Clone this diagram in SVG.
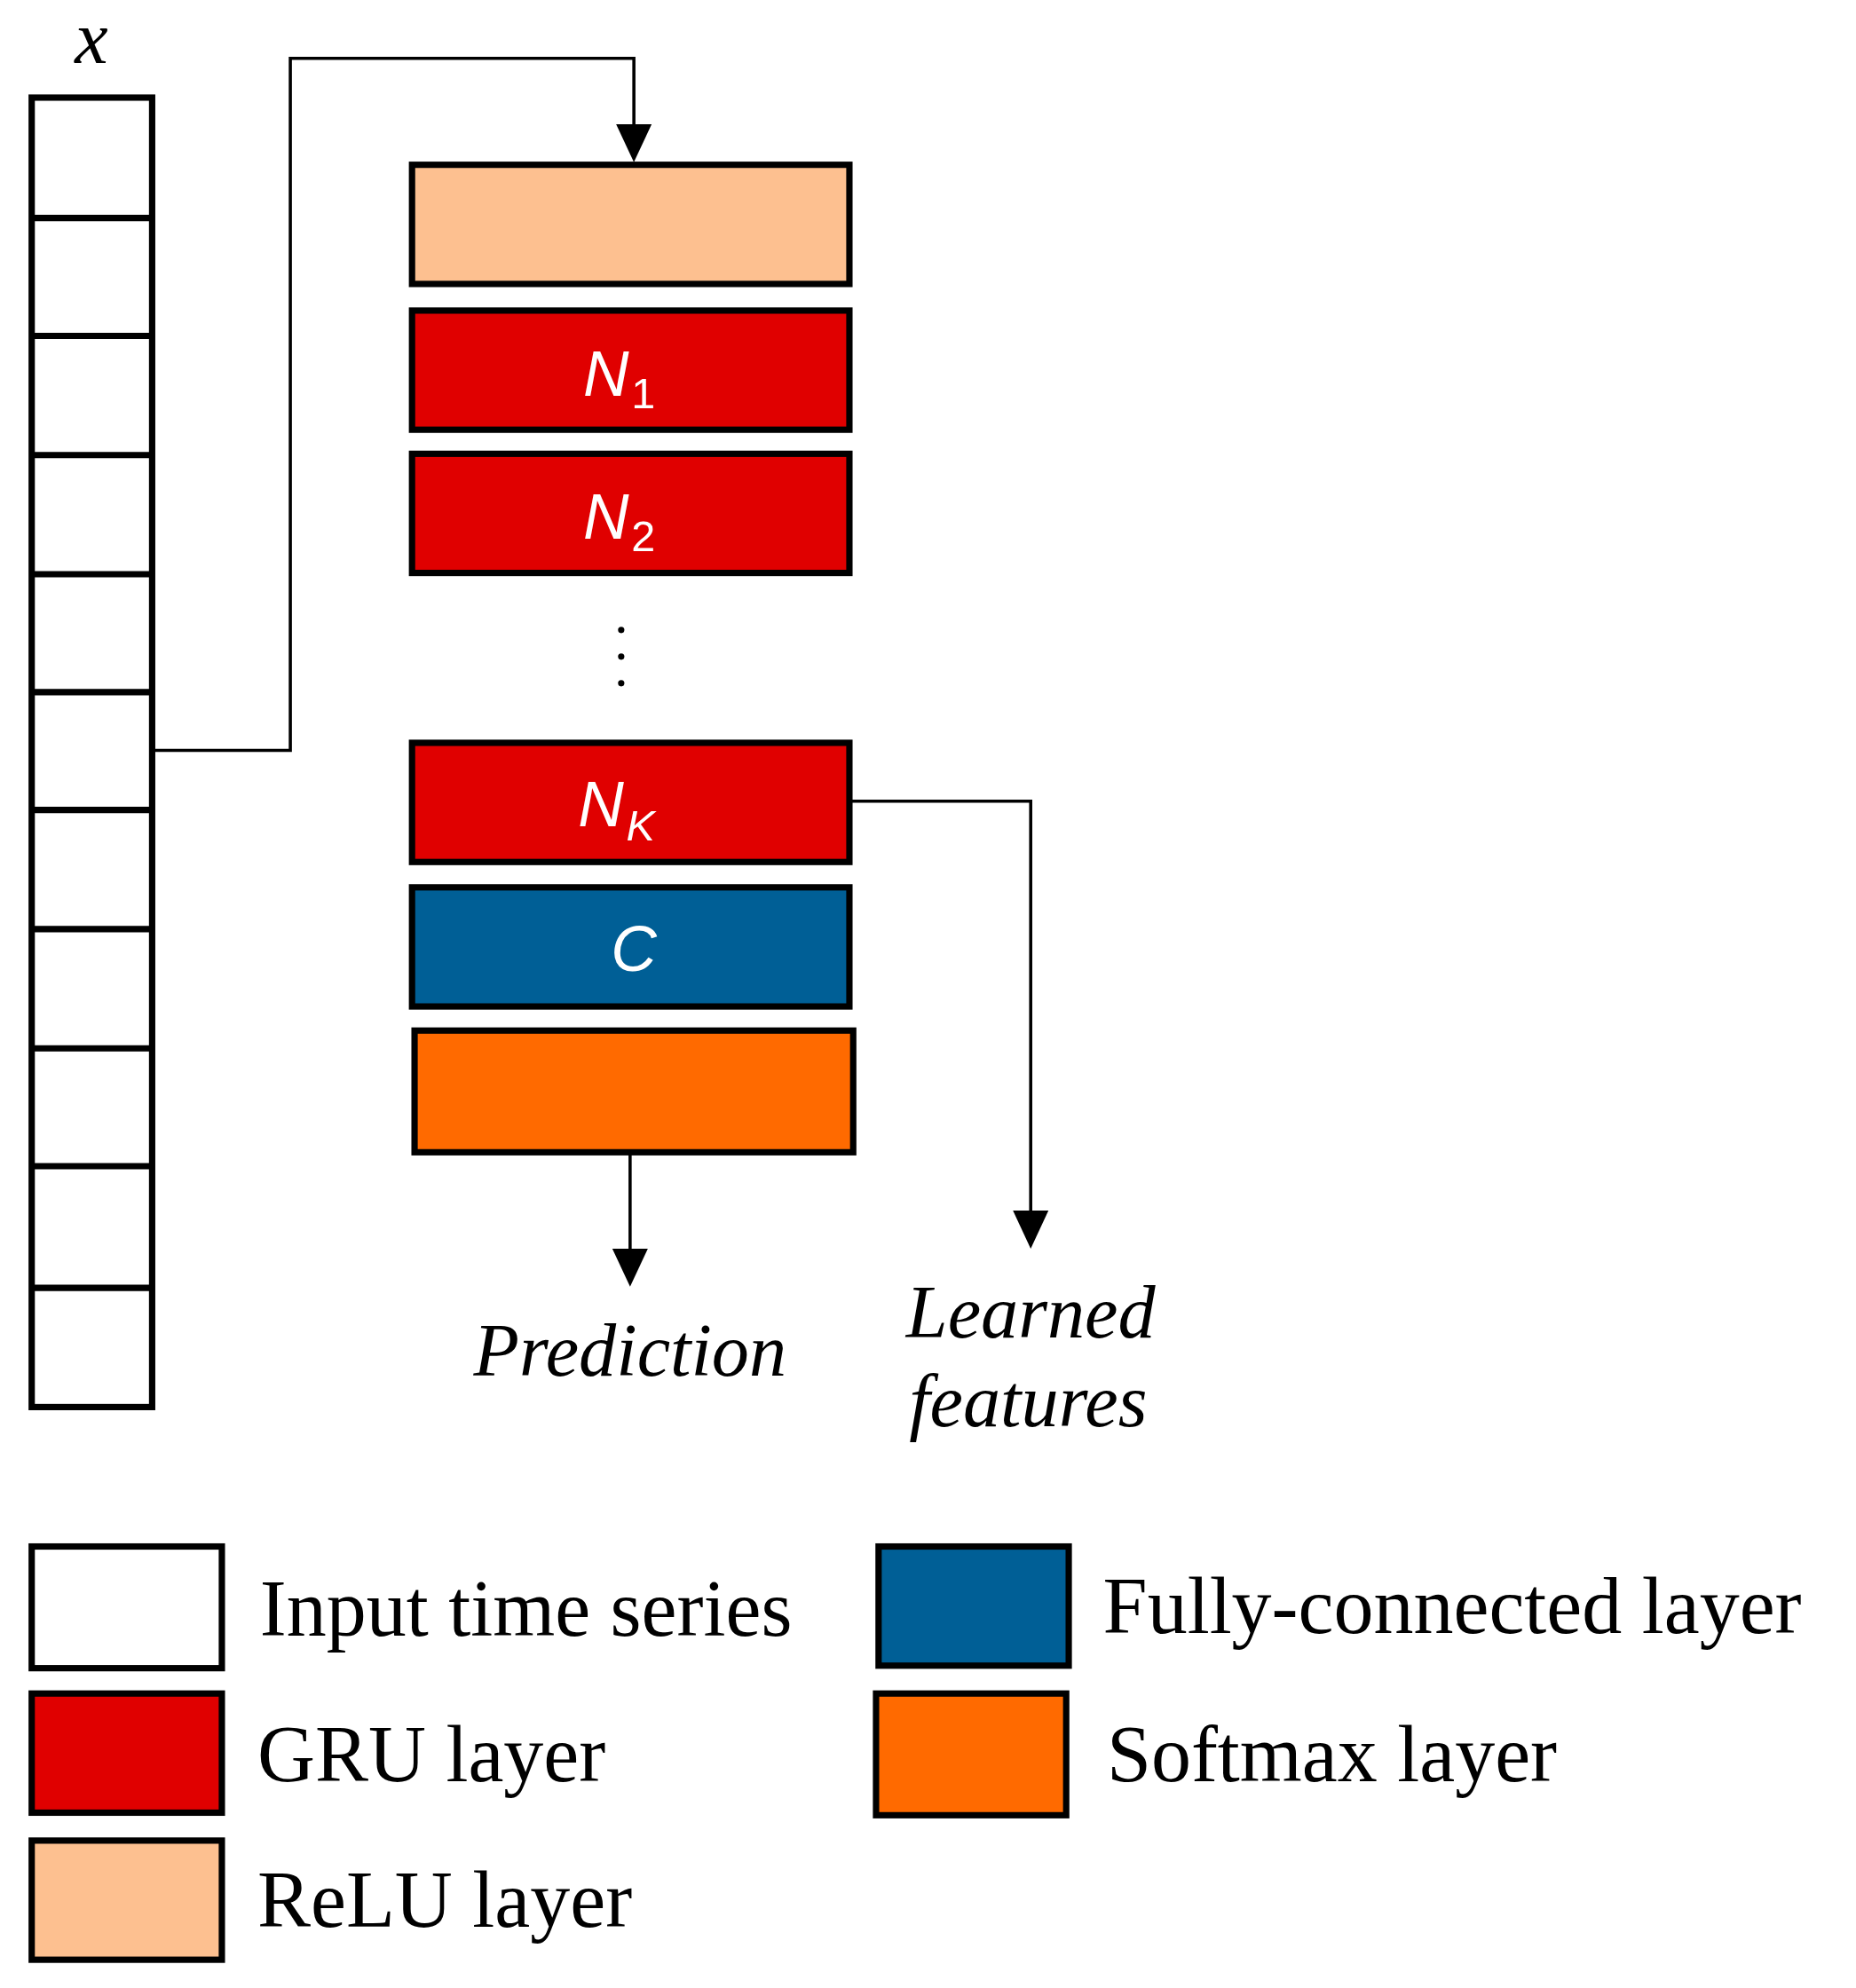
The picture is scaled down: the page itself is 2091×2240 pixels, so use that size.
<svg xmlns="http://www.w3.org/2000/svg" width="2091" height="2240" viewBox="0 0 2091 2240">
<style>
.b{stroke:#000;stroke-width:5}
.c{fill:none;stroke:#000;stroke-width:2.5}
.t{font-family:"Liberation Serif",serif;font-size:63px;fill:#000}
.i{font-family:"Liberation Serif",serif;font-style:italic;font-size:59px;fill:#000}
.w{font-family:"Liberation Sans",sans-serif;font-style:italic;font-size:50px;fill:#fff}
.s{font-family:"Liberation Sans",sans-serif;font-size:34px;fill:#fff}
</style>
<rect width="2091" height="2240" fill="#fff"/>
<g transform="scale(1.4283)">
<g id="input">
<text class="i" x="72" y="50" text-anchor="middle" font-size="68">x</text>
<rect class="b" x="25" y="77" width="95" height="1033" fill="#fff"/>
<path class="b" d="M25 172H120M25 265H120M25 359H120M25 453H120M25 546H120M25 639H120M25 733H120M25 827H120M25 920H120M25 1016H120"/>
</g>
<g id="connectors">
<path class="c" d="M120 592H229V46H500V100"/>
<path d="M486 98L500 128L514 98z"/>
<path class="c" d="M497 909V990"/>
<path d="M483 985L497 1015L511 985z"/>
<path class="c" d="M670 632H813V960"/>
<path d="M799 955L813 985L827 955z"/>
</g>
<g id="relu"><rect class="b" x="325" y="130" width="345" height="94" fill="#FDC090"/></g>
<g id="n1"><rect class="b" x="325" y="245" width="345" height="94" fill="#E00000"/><text class="w" x="460" y="312">N</text><text class="s" x="498" y="322">1</text></g>
<g id="n2"><rect class="b" x="325" y="358" width="345" height="94" fill="#E00000"/><text class="w" x="460" y="425">N</text><text class="s" x="498" y="435">2</text></g>
<g id="dots" fill="#000"><circle cx="490" cy="497" r="2.5"/><circle cx="490" cy="518" r="2.5"/><circle cx="490" cy="539" r="2.5"/></g>
<g id="nk"><rect class="b" x="325" y="586" width="345" height="94" fill="#E00000"/><text class="w" x="456" y="652">N</text><text class="s" x="494" y="663" font-style="italic">K</text></g>
<g id="c"><rect class="b" x="325" y="700" width="345" height="94" fill="#005F96"/><text class="w" x="500" y="766" text-anchor="middle">C</text></g>
<g id="softmax"><rect class="b" x="327" y="813" width="346" height="96" fill="#FF6A00"/></g>
<g id="labels">
<text class="i" x="497" y="1085" text-anchor="middle">Prediction</text>
<text class="i" x="813" y="1055" text-anchor="middle">Learned</text>
<text class="i" x="811" y="1125" text-anchor="middle">features</text>
</g>
<g id="legend">
<rect class="b" x="25" y="1220" width="150" height="96" fill="#fff"/><text class="t" x="205" y="1290">Input time series</text>
<rect class="b" x="25" y="1336" width="150" height="94" fill="#E00000"/><text class="t" x="203" y="1405">GRU layer</text>
<rect class="b" x="25" y="1452" width="150" height="94" fill="#FDC090"/><text class="t" x="203" y="1520">ReLU layer</text>
<rect class="b" x="693" y="1220" width="150" height="94" fill="#005F96"/><text class="t" x="870" y="1288">Fully-connected layer</text>
<rect class="b" x="691" y="1336" width="150" height="96" fill="#FF6A00"/><text class="t" x="873" y="1405">Softmax layer</text>
</g>
</g>
</svg>
